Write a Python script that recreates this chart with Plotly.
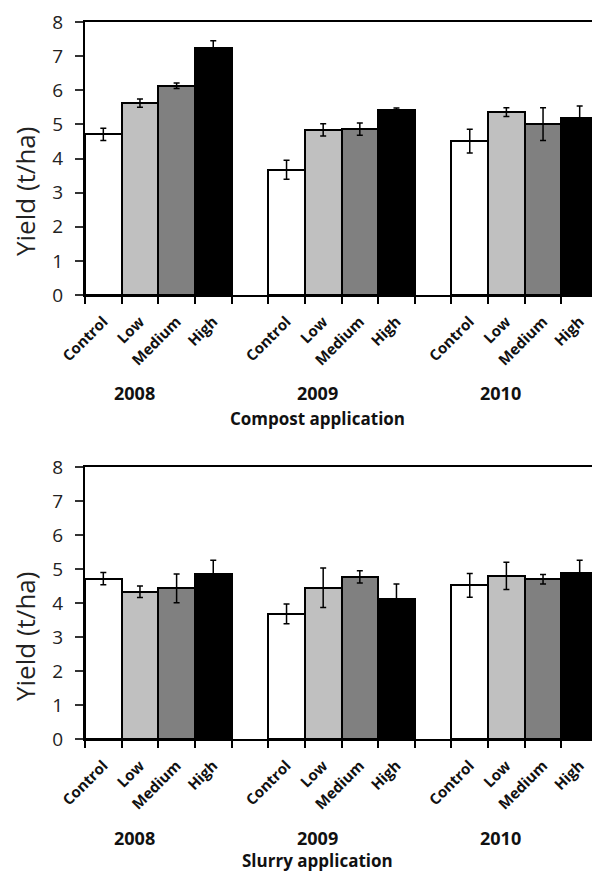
import plotly.graph_objects as go
from plotly.subplots import make_subplots

years = ["2008", "2009", "2010"]
levels = ["Control", "Low", "Medium", "High"]
colors = ["#ffffff", "#c0c0c0", "#808080", "#000000"]

compost_control = [4.71, 3.67, 4.51]
compost_low = [5.62, 4.84, 5.36]
compost_medium = [6.13, 4.86, 5.01]
compost_high = [7.25, 5.42, 5.20]
compost_control_err = [0.18, 0.28, 0.35]
compost_low_err = [0.12, 0.18, 0.13]
compost_medium_err = [0.08, 0.18, 0.48]
compost_high_err = [0.20, 0.06, 0.34]

slurry_control = [4.72, 3.68, 4.52]
slurry_low = [4.33, 4.45, 4.80]
slurry_medium = [4.43, 4.77, 4.70]
slurry_high = [4.85, 4.12, 4.87]
slurry_control_err = [0.18, 0.29, 0.35]
slurry_low_err = [0.17, 0.58, 0.40]
slurry_medium_err = [0.42, 0.18, 0.14]
slurry_high_err = [0.41, 0.44, 0.39]

panels = [
    ([compost_control, compost_low, compost_medium, compost_high],
     [compost_control_err, compost_low_err, compost_medium_err, compost_high_err],
     "Compost application"),
    ([slurry_control, slurry_low, slurry_medium, slurry_high],
     [slurry_control_err, slurry_low_err, slurry_medium_err, slurry_high_err],
     "Slurry application"),
]

FONT = "Open Sans"
group_size = len(levels) + 1
n_slots = len(years) * group_size - 1

fig = make_subplots(rows=2, cols=1)

for r, (vals, errs, title) in enumerate(panels, start=1):
    for li, lvl in enumerate(levels):
        xs = [yi * group_size + li for yi in range(len(years))]
        fig.add_trace(go.Bar(
            x=xs, y=vals[li], width=1, name=lvl, showlegend=False,
            marker=dict(color=colors[li], line=dict(color="black", width=2)),
            error_y=dict(type="data", array=errs[li], color="black",
                         thickness=1.5, width=3),
        ), row=r, col=1)

tick_pos = []
tick_txt = []
for yi in range(len(years)):
    for li, lvl in enumerate(levels):
        tick_pos.append(yi * group_size + li)
        tick_txt.append("<b>" + lvl + "</b>")
bounds = [i - 0.5 for i in range(n_slots + 1)]

for r in (1, 2):
    fig.update_xaxes(
        range=[-0.5, n_slots - 0.5], tickmode="array", tickvals=tick_pos,
        ticktext=tick_txt, tickangle=-45, ticks="outside", ticklen=8,
        tickcolor="rgba(0,0,0,0)", ticklabelstandoff=2,
        tickfont=dict(family=FONT, size=15, color="#111"),
        showline=True, linecolor="black", linewidth=2, mirror=True,
        showgrid=False, zeroline=False, automargin=False,
        minor=dict(tickmode="array", tickvals=bounds, ticks="outside",
                   ticklen=7, tickwidth=2, tickcolor="black", showgrid=False),
        row=r, col=1)
    fig.update_yaxes(
        range=[0, 8], dtick=1, ticks="outside", ticklen=8, tickwidth=1.5,
        tickcolor="#333", ticklabelstandoff=8,
        tickfont=dict(family=FONT, size=19, color="#222"),
        showline=True, linecolor="black", linewidth=2, mirror=True,
        showgrid=False, zeroline=False, automargin=False, row=r, col=1)

# page is offset by the 8px body margin
W, H = 592, 865
def py(p):
    return (739 - p) / 717

fig.update_layout(
    width=W, height=H,
    margin=dict(l=77, r=2, t=14, b=134),
    plot_bgcolor="white", paper_bgcolor="white", bargap=0,
    xaxis=dict(domain=[0, 1]), yaxis=dict(domain=[py(295), 1]),
    xaxis2=dict(domain=[0, 1]), yaxis2=dict(domain=[0, py(467)]),
)

ann = []
for r, (vals, errs, title) in enumerate(panels, start=1):
    off = 0 if r == 1 else 445
    xref = "x" if r == 1 else "x2"
    for yi, yr in enumerate(years):
        ann.append(dict(x=yi * group_size + (len(levels) - 1) / 2, xref=xref,
                        y=py(393 + off), yref="paper", text="<b>" + yr + "</b>",
                        showarrow=False, xshift=-24, yanchor="middle",
                        font=dict(family=FONT, size=18, color="#111")))
    ann.append(dict(x=(n_slots - 1) / 2, xref=xref,
                    y=py(418 + off - (3 if r == 2 else 0)), yref="paper",
                    text="<b>" + title + "</b>", showarrow=False, xshift=-24,
                    yanchor="middle", font=dict(family=FONT, size=17, color="#111")))
    ann.append(dict(x=(25 - 85) / 513, xref="paper", y=py(192 + off), yref="paper",
                    text="Yield (t/ha)", textangle=-90, showarrow=False,
                    xanchor="center", yanchor="middle",
                    font=dict(family=FONT, size=26, color="#222")))
fig.update_layout(annotations=ann)

fig.write_html("out.html")
